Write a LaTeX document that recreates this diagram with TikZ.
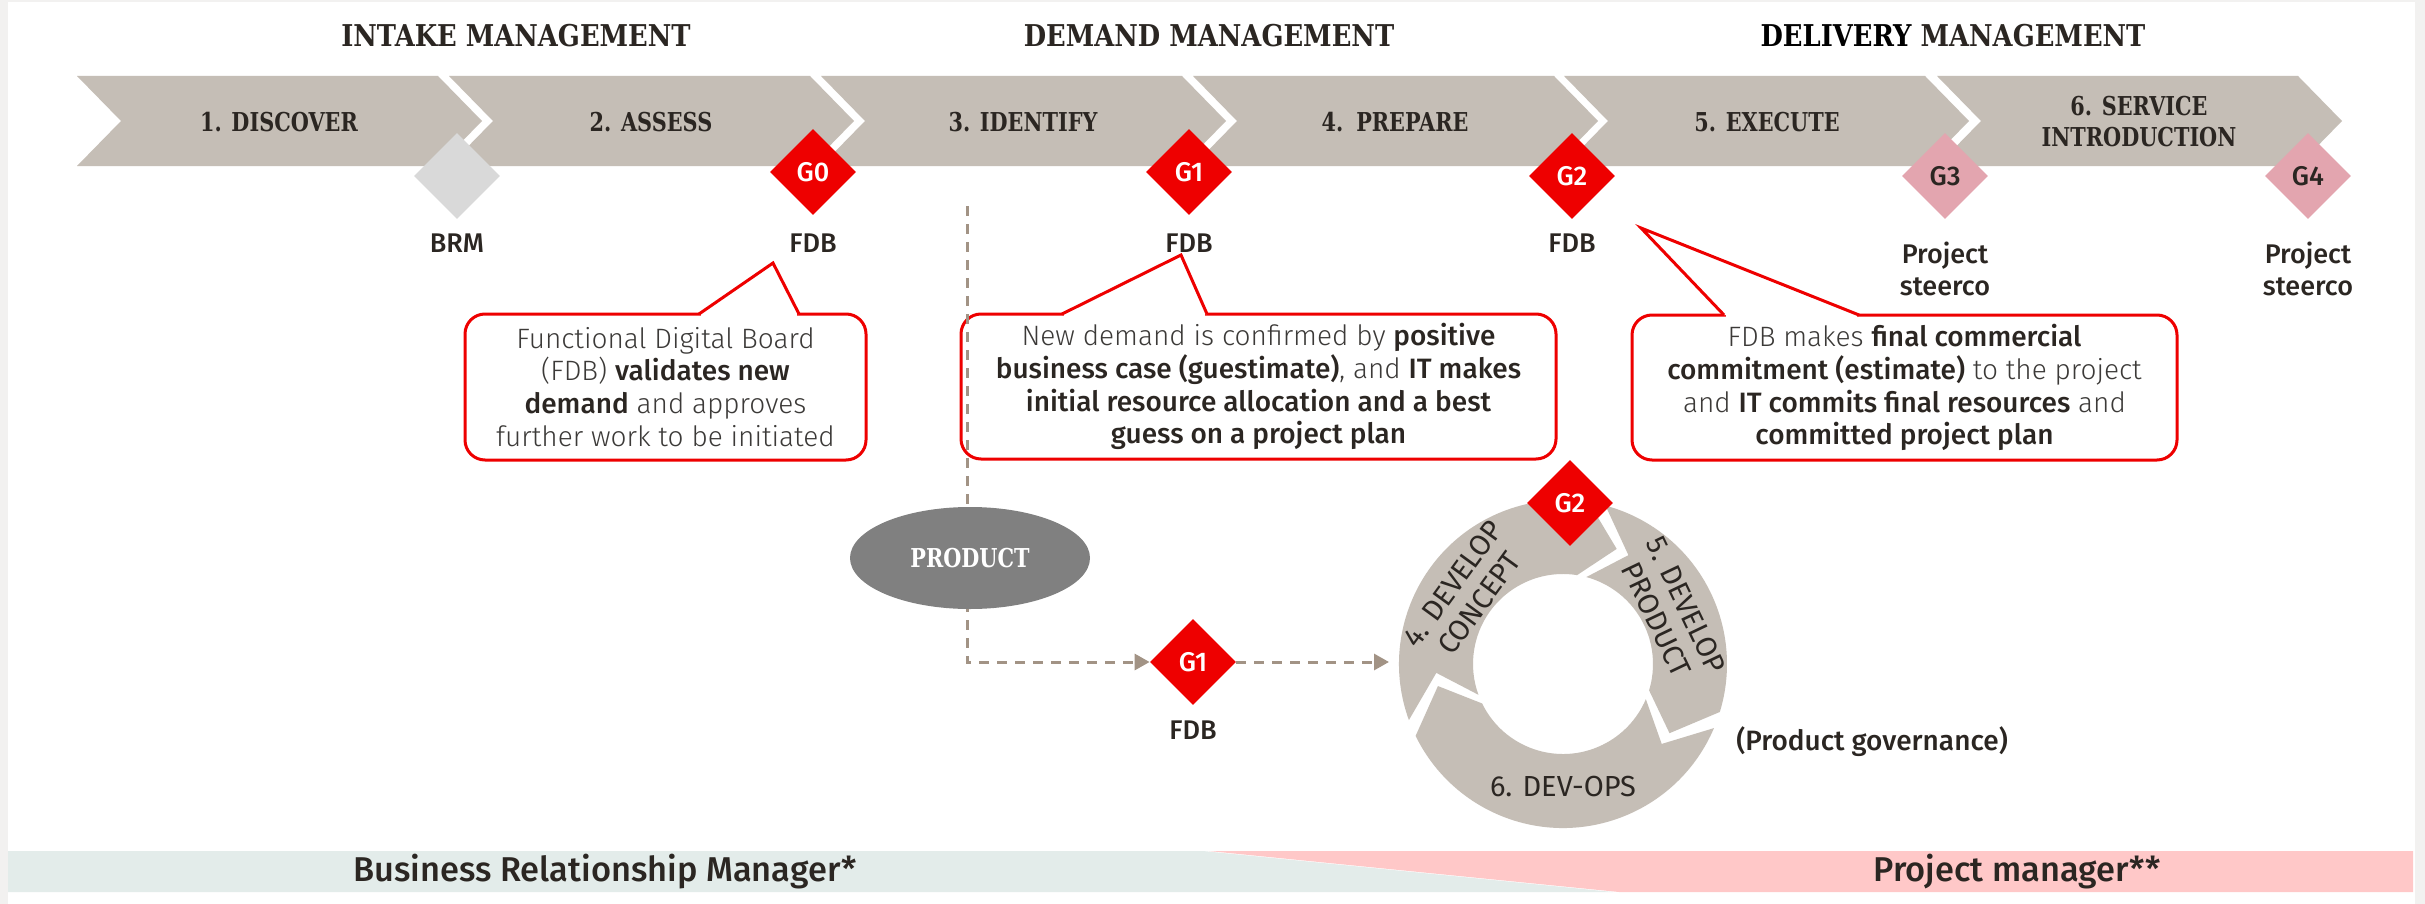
\documentclass[tikz,border=0pt]{standalone}
\usepackage{fontspec}
\usetikzlibrary{shapes.geometric,arrows.meta,calc}
\newfontfamily\bodyfont{Fira Sans Light}[BoldFont={Fira Sans Medium}]
\newfontfamily\labfont{Fira Sans Medium}
\newfontfamily\regfont{Fira Sans}
\newfontfamily\headfont{DejaVu Serif}[FakeStretch=0.8]
\newfontfamily\titlefont{DejaVu Serif}[FakeStretch=0.86]
\definecolor{chevc}{HTML}{C5BEB6}
\definecolor{gred}{HTML}{EE0000}
\definecolor{gpink}{HTML}{E3A5AF}
\definecolor{brmgray}{HTML}{D9D9D9}
\definecolor{ellgray}{HTML}{808080}
\definecolor{dashc}{HTML}{A29385}
\definecolor{txtdark}{HTML}{2B2622}
\definecolor{txtlight}{HTML}{3C3A38}
\definecolor{bggray}{HTML}{F2F1F0}
\definecolor{bandgreen}{HTML}{E3ECEA}
\definecolor{bandpink}{HTML}{FFC8C8}
\begin{document}
\begin{tikzpicture}[x=0.5pt,y=0.5pt,
  chevshape/.style={fill=chevc},
  chevtext/.style={font=\headfont\bfseries\fontsize{13}{15.5}\selectfont, text=txtdark, align=center, inner sep=0pt},
  titletext/.style={font=\titlefont\bfseries\fontsize{15}{18}\selectfont, text=txtdark, inner sep=0pt},
  gate/.style={diamond, aspect=1, minimum width=43pt, minimum height=43pt, inner sep=0pt, font=\labfont\fontsize{13.5}{15}\selectfont},
  redgate/.style={gate, fill=gred, text=white},
  pinkgate/.style={gate, fill=gpink, text=txtdark},
  graygate/.style={gate, fill=brmgray},
  gatelabel/.style={font=\labfont\fontsize{13.5}{16}\selectfont, text=txtdark, align=center, inner sep=0pt},
  callout/.style={draw=gred, line width=1.5pt, rounded corners=10pt, fill=white, align=center, inner sep=0pt, font=\bodyfont\fontsize{14}{16.4}\selectfont, text=txtlight},
  ptrline/.style={draw=gred, line width=1.5pt},
  dashline/.style={draw=dashc, line width=1.5pt, dash pattern=on 5pt off 4pt},
  dasharrow/.style={dashline, -{Triangle[length=7.5pt,width=8pt]}},
  ringseg/.style={fill=chevc},
  ringtext/.style={font=\regfont\fontsize{14.5}{16.5}\selectfont, text=txtdark, align=center, inner sep=0pt},
  bandtext/.style={font=\labfont\fontsize{17.2}{20}\selectfont, text=txtdark, inner sep=0pt}
]
\useasboundingbox (0,0) rectangle (2425,-904);
\fill[bggray] (0,0) rectangle (2425,-904);
\fill[white] (8,-2) rectangle (2415,-904);

% section titles
\node[titletext] (tintake) at (516,-36) {INTAKE MANAGEMENT};
\node[titletext] (tdemand) at (1209,-36) {DEMAND MANAGEMENT};
\node[titletext] (tdelivery) at (1953,-36) {{\color{black}DELIVERY} MANAGEMENT};

% chevrons
\foreach \s in {77,449,821,1193,1564,1937}{
  \fill[chevshape] ({\s},-76) -- ({\s+361},-76) -- ({\s+405},-121) -- ({\s+361},-166) -- ({\s},-166) -- ({\s+44},-121) -- cycle;
}
\node[chevtext] (c1) at (279,-122) {1. DISCOVER};
\node[chevtext] (c2) at (651,-122) {2. ASSESS};
\node[chevtext] (c3) at (1023,-122) {3. IDENTIFY};
\node[chevtext] (c4) at (1395,-122) {4.\enspace PREPARE};
\node[chevtext] (c5) at (1767,-122) {5. EXECUTE};
\node[chevtext] (c6) at (2139,-122) {6. SERVICE\\INTRODUCTION};

% gates
\node[graygate] (brm) at (457,-176) {};
\node[redgate] (g0) at (813,-172) {G0};
\node[redgate] (g1) at (1189,-172) {G1};
\node[redgate] (g2) at (1572,-176) {G2};
\node[pinkgate] (g3) at (1945,-176) {G3};
\node[pinkgate] (g4) at (2308,-176) {G4};

\node[gatelabel] (brml) at (457,-243) {BRM};
\node[gatelabel] (g0l) at (813,-243) {FDB};
\node[gatelabel] (g1l) at (1189,-243) {FDB};
\node[gatelabel] (g2l) at (1572,-243) {FDB};
\node[gatelabel] (g3l) at (1945,-269) {Project\\steerco};
\node[gatelabel] (g4l) at (2308,-269) {Project\\steerco};

% callout 1
\node[callout, minimum width=200.5pt, minimum height=73pt] (cb1) at (665.5,-387)
  {Functional Digital Board\\(FDB) \textbf{\color{txtdark}validates new}\\\textbf{\color{txtdark}demand} and approves\\further work to be initiated};
\coordinate (p1l) at (699,-314);
\coordinate (p1a) at (773,-263);
\coordinate (p1r) at (799,-314);
\fill[white] ($(p1l)+(2,-4)$) rectangle ($(p1r)+(-2,3)$);
\fill[white] (p1l) -- (p1a) -- (p1r) -- cycle;
\draw[ptrline] (p1l) -- (p1a) -- (p1r);

% callout 2
\node[callout, minimum width=297.5pt, minimum height=72.5pt] (cb2) at (1258.5,-386.5)
  {New demand is confirmed by \textbf{\color{txtdark}positive}\\\textbf{\color{txtdark}business case (guestimate)}, and \textbf{\color{txtdark}IT makes}\\\textbf{\color{txtdark}initial resource allocation and a best}\\\textbf{\color{txtdark}guess on a project plan}};
\coordinate (p2l) at (1062,-314);
\coordinate (p2a) at (1181,-255);
\coordinate (p2r) at (1207,-314);
\fill[white] ($(p2l)+(2,-4)$) rectangle ($(p2r)+(-2,3)$);
\fill[white] (p2l) -- (p2a) -- (p2r) -- cycle;
\draw[ptrline] (p2l) -- (p2a) -- (p2r);

% callout 3
\node[callout, minimum width=272.5pt, minimum height=72.5pt] (cb3) at (1904.5,-387.5)
  {FDB makes \textbf{\color{txtdark}final commercial}\\\textbf{\color{txtdark}commitment (estimate)} to the project\\and \textbf{\color{txtdark}IT commits final resources} and\\\textbf{\color{txtdark}committed project plan}};
\coordinate (p3l) at (1724,-315);
\coordinate (p3a) at (1641,-228);
\coordinate (p3r) at (1859,-315);
\fill[white] ($(p3l)+(2,-4)$) rectangle ($(p3r)+(-2,3)$);
\fill[white] (p3l) -- (p3a) -- (p3r) -- cycle;
\draw[ptrline] (p3l) -- (p3a) -- (p3r);

% product flow
\node[redgate] (g1b) at (1193,-662) {G1};
\node[gatelabel] (g1bl) at (1193,-730) {FDB};
\coordinate (dtop) at (967,-206);
\coordinate (ringin) at (1389,-662);
\draw[dasharrow] (dtop) |- (g1b.west);
\draw[dasharrow] (g1b.east) -- (ringin);
\node[ellipse, fill=ellgray, minimum width=120pt, minimum height=51pt, inner sep=0pt, text=white, font=\headfont\bfseries\fontsize{13}{15}\selectfont] (prod) at (970,-558) {PRODUCT};

% ring
\begin{scope}[shift={(1563,-664)}]
\fill[ringseg] (200:164) arc[start angle=200,end angle=81,radius=164] -- (65:127) -- (81:90) arc[start angle=81,end angle=200,radius=90] -- (184:127) -- cycle;
\fill[ringseg] (75:164) arc[start angle=75,end angle=-17,radius=164] -- (-33:127) -- (-17:90) arc[start angle=-17,end angle=75,radius=90] -- (59:127) -- cycle;
\fill[ringseg] (-23:164) arc[start angle=-23,end angle=-154,radius=164] -- (-170:127) -- (-154:90) arc[start angle=-154,end angle=-23,radius=90] -- (-39:127) -- cycle;
\node[ringtext, rotate=54] (r4) at (144:120) {4. DEVELOP\\CONCEPT};
\node[ringtext, rotate=-64.5] (r5) at (25.5:120) {5. DEVELOP\\PRODUCT};
\node[ringtext] (r6) at (-90:123) {6. DEV-OPS};
\end{scope}
\node[redgate] (g2r) at (1570,-503) {G2};
\node[gatelabel, font=\labfont\fontsize{14}{16}\selectfont] (pgov) at (1872,-742) {(Product governance)};

% bottom band
\fill[bandgreen] (8,-851) -- (1203,-851) -- (1613,-892) -- (8,-892) -- cycle;
\fill[bandpink] (1209,-851) -- (2413,-851) -- (2413,-892) -- (1619,-892) -- cycle;
\node[bandtext] (brmband) at (605,-872) {Business Relationship Manager*};
\node[bandtext] (pmband) at (2017,-872) {Project manager**};
\end{tikzpicture}
\end{document}
